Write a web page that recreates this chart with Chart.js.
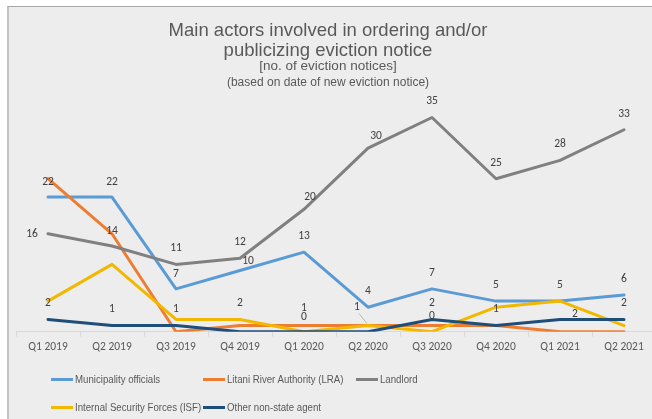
<!DOCTYPE html>
<html><head><meta charset="utf-8">
<script src="https://cdn.jsdelivr.net/npm/chart.js@4.4.0/dist/chart.umd.min.js"></script>
<style>
html,body{margin:0;padding:0;width:652px;height:419px;overflow:hidden;background:#ffffff;}
#frame{position:absolute;left:7px;top:6px;width:700px;height:420px;background:#EDEDED;border-top:1px solid #A6A6A6;border-left:2px solid #C4C4C4;}
#wrap{position:absolute;left:0;top:0;width:656px;height:419px;}
#legend{position:absolute;left:0;top:0;width:652px;height:419px;font-family:"Liberation Sans",Arial,sans-serif;font-size:11.5px;color:#595959;pointer-events:none;}
.item{position:absolute;display:flex;align-items:center;white-space:nowrap;height:14px;}
.swatch{display:inline-block;width:22px;height:3px;margin-right:2px;flex:none;}
.txt{display:inline-block;transform:scaleX(0.84);transform-origin:0 50%;}
</style></head>
<body>
<div id="frame"></div>
<div id="wrap"><canvas id="c" width="656" height="419"></canvas></div>
<div id="legend"></div>
<script>
// ---- data ----
const categories = ["Q1 2019","Q2 2019","Q3 2019","Q4 2019","Q1 2020","Q2 2020","Q3 2020","Q4 2020","Q1 2021","Q2 2021"];
const municipality = [22,22,7,10,13,4,7,5,5,6];
const litani       = [25,16,0,1,1,1,1,1,0,0];
const landlord     = [16,14,11,12,20,30,35,25,28,33];
const isf          = [5,11,2,2,0,1,0,4,5,1];
const otherAgent   = [2,1,1,0,0,0,2,1,2,2];
const seriesNames  = ["Municipality officials","Litani River Authority (LRA)","Landlord","Internal Security Forces (ISF)","Other non-state agent"];
const titleLines   = ["Main actors involved in ordering and/or","publicizing eviction notice"];
const subtitleText = "[no. of eviction notices]";
const noteText     = "(based on date of new eviction notice)";

const colors = ["#5B9BD5","#ED7D31","#808080","#F2B800","#1F4E79"];
const seriesData = [municipality, litani, landlord, isf, otherAgent];

// which points carry a value label in the original: [series, category, dx, dy, leader]
const labelSpecs = [
  [2,0,-16,0],[2,1,0,-15],[2,2,0,-16],[2,3,0,-16],[2,4,6,-12],[2,5,8,-12],[2,6,0,-16],[2,7,0,-16],[2,8,0,-16],[2,9,0,-16],
  [0,0,0,-15],[0,1,0,-15],[0,2,0,-15],[0,3,8,-9],[0,4,0,-16],[0,5,0,-16],[0,6,0,-16],[0,7,0,-16],[0,8,0,-16],[0,9,0,-16],
  [4,0,0,-16],[4,1,0,-16],[4,2,0,-16],[4,6,0,-16],[4,7,0,-16],[4,8,15,-5],[4,9,0,-16],
  [3,3,0,-16],[3,4,0,-15],[3,6,0,-16],
  [1,4,0,-17],[1,5,-11,-18,true]
];

const valueLabels = {
  id:'valueLabels',
  afterDatasetsDraw(chart){
    const ctx = chart.ctx;
    ctx.save();
    ctx.font = '11.5px Carlito, Calibri, Lato, sans-serif';
    ctx.fillStyle = '#404040';
    ctx.textAlign = 'center';
    ctx.textBaseline = 'middle';
    for (const s of labelSpecs){
      const [ds,i,dx,dy,leader] = s;
      const pt = chart.getDatasetMeta(ds).data[i];
      const x = pt.x + dx, y = pt.y + dy;
      if (leader){
        ctx.strokeStyle = '#A6A6A6'; ctx.lineWidth = 0.75;
        ctx.beginPath(); ctx.moveTo(x+2, y+6); ctx.lineTo(pt.x-1, pt.y-2); ctx.stroke();
      }
      ctx.fillText(String(chart.data.datasets[ds].data[i]), x, y);
    }
    ctx.restore();
  }
};

// second subtitle line (smaller) drawn in the space reserved under the subtitle
const noteLine = {
  id:'noteLine',
  afterDraw(chart){
    const ctx = chart.ctx;
    ctx.save();
    ctx.font = '12px "Liberation Sans", Arial, sans-serif';
    ctx.fillStyle = '#595959';
    ctx.textAlign = 'center';
    ctx.textBaseline = 'middle';
    ctx.fillText(noteText, chart.width/2, chart.chartArea.top - 16.5);
    ctx.restore();
  }
};

const chart = new Chart(document.getElementById('c'), {
  type:'line',
  data:{
    labels: categories,
    datasets: seriesNames.map((n,k)=>({
      label:n, data:seriesData[k], borderColor:colors[k], backgroundColor:colors[k],
      borderWidth:3, pointRadius:0, pointHoverRadius:0, tension:0,
      borderJoinStyle:'round', borderCapStyle:'round', order:4-k, fill:false
    }))
  },
  options:{
    responsive:false, animation:false, devicePixelRatio:1,
    layout:{padding:{left:0,right:0,top:0,bottom:60.5}},
    plugins:{
      legend:{display:false}, tooltip:{enabled:false},
      title:{display:true, text:titleLines, color:'#595959',
        font:{family:'"Liberation Sans", Arial, sans-serif', size:18.5, weight:'normal', lineHeight:1.08},
        padding:{top:21,bottom:0}},
      subtitle:{display:true, text:subtitleText, color:'#595959',
        font:{family:'"Liberation Sans", Arial, sans-serif', size:13.5, weight:'normal', lineHeight:1.2},
        padding:{top:-2.5,bottom:24.5}}
    },
    scales:{
      x:{offset:true,
        grid:{drawOnChartArea:false, drawTicks:true, tickLength:5, color:'#D9D9D9', offset:true},
        border:{display:true, color:'#D9D9D9', width:1},
        ticks:{color:'#595959', font:{family:'Carlito, Calibri, Lato, sans-serif', size:11.5}, padding:4, maxRotation:0, autoSkip:false}},
      y:{display:true, min:0, max:38,
        grid:{display:false, drawTicks:false}, border:{display:false}, ticks:{display:false},
        afterFit(scale){ scale.width = 16; }}
    }
  },
  plugins:[valueLabels, noteLine]
});

// legend laid out in columns as in the original
const legend = document.getElementById('legend');
const legendPos = [[51,372],[203,372],[356,372],[51,400],[203,400]];
seriesNames.forEach((n,k)=>{
  const d = document.createElement('div');
  d.className='item';
  d.style.left = legendPos[k][0]+'px'; d.style.top = legendPos[k][1]+'px';
  d.innerHTML = '<span class="swatch" style="background:'+colors[k]+'"></span><span class="txt">'+n+'</span>';
  legend.appendChild(d);
});
</script>
</body></html>
